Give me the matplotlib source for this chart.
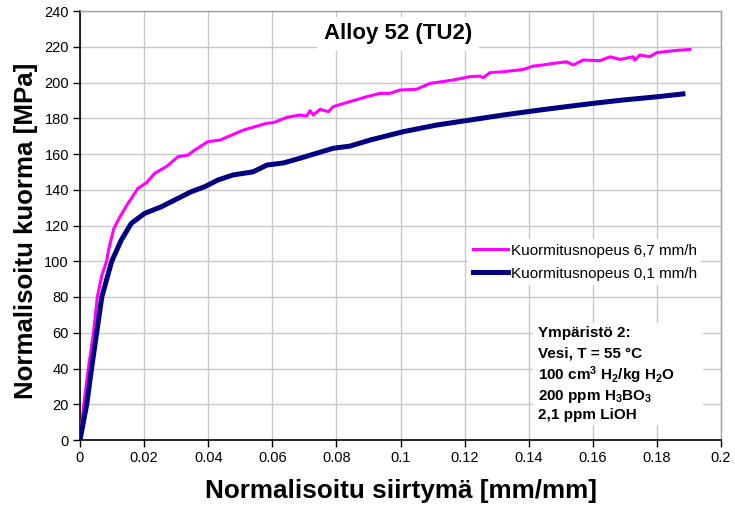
import matplotlib
matplotlib.use("Agg")
import matplotlib.pyplot as plt
from matplotlib.patches import Rectangle

plt.rcParams["font.family"] = ["Liberation Sans", "DejaVu Sans"]
plt.rcParams["mathtext.fontset"] = "custom"
plt.rcParams["mathtext.rm"] = "Liberation Sans:bold"
plt.rcParams["mathtext.default"] = "rm"

# Loading rate 6,7 mm/h
strain_fast = [0, 0.0012, 0.0026, 0.0042, 0.0054, 0.0068, 0.0083, 0.0090, 0.0105,
               0.0125, 0.0150, 0.0181, 0.0208, 0.0233, 0.0270, 0.0306, 0.0337,
               0.0358, 0.0399, 0.0437, 0.0510, 0.0583, 0.0603, 0.0645, 0.0686,
               0.0707, 0.0718, 0.0728, 0.0749, 0.0775, 0.0790, 0.0842, 0.0894,
               0.0936, 0.0967, 0.0998, 0.1050, 0.1092, 0.1165, 0.1217, 0.1248,
               0.1258, 0.1279, 0.1320, 0.1383, 0.1414, 0.1445, 0.1477, 0.1518,
               0.1539, 0.1570, 0.1622, 0.1654, 0.1685, 0.1726, 0.1731, 0.1747,
               0.1778, 0.1800, 0.1851, 0.1903]
stress_fast = [0, 20, 40, 60, 80, 92, 100, 107, 118,
               125, 132.4, 140.8, 144, 149.2, 153, 158.5, 159.4,
               162.2, 166.9, 167.8, 173.4, 177.2, 177.5, 180.5, 181.8,
               181.2, 184.2, 181.8, 185, 183.7, 186.5, 189.3, 192,
               193.9, 193.9, 195.8, 196.2, 199.5, 201.4, 203.3, 203.6,
               202.7, 205.5, 206, 207.3, 209.2, 209.8, 210.7, 211.6,
               209.8, 212.6, 212.2, 214.4, 212.9, 214.4, 212.5, 215.4,
               214.4, 216.7, 217.8, 218.5]

# Loading rate 0,1 mm/h
strain_slow = [0, 0.0021, 0.0036, 0.0052, 0.0068, 0.0099, 0.0129, 0.0160, 0.0202,
               0.0254, 0.0306, 0.0347, 0.0389, 0.0431, 0.0478, 0.0540, 0.0583,
               0.0635, 0.0686, 0.0738, 0.0790, 0.0842, 0.0905, 0.1009, 0.1113,
               0.1217, 0.1320, 0.1435, 0.1518, 0.1600, 0.1694, 0.1800, 0.1881]
stress_slow = [0, 20, 40, 60, 80, 100, 111.9, 121.2, 126.8,
               130.5, 135.2, 138.9, 141.7, 145.5, 148.3, 150, 153.8,
               155, 157.6, 160.4, 163.2, 164.4, 167.8, 172.5, 176.2,
               179, 181.8, 184.6, 186.5, 188.3, 190.2, 192, 193.6]

series_labels = ["Kuormitusnopeus 6,7 mm/h", "Kuormitusnopeus 0,1 mm/h"]
x_ticks = [0, 0.02, 0.04, 0.06, 0.08, 0.1, 0.12, 0.14, 0.16, 0.18, 0.2]
x_tick_labels = ["0", "0.02", "0.04", "0.06", "0.08", "0.1", "0.12", "0.14", "0.16", "0.18", "0.2"]
y_ticks = list(range(0, 241, 20))

env_lines = ["Ympäristö 2:",
             "Vesi, T = 55 °C",
             r"100 cm$^{3}$ H$_{2}$/kg H$_{2}$O",
             r"200 ppm H$_{3}$BO$_{3}$",
             "2,1 ppm LiOH"]

W, H = 735, 508
L, R, T, B = 80, 721, 11, 440


def ax_xy(px, py):
    """Pixel position inside the plot frame -> axes fraction."""
    return (px - L) / (R - L), (B - py) / (B - T)


fig = plt.figure(figsize=(W / 100, H / 100), dpi=100)
ax = fig.add_axes([L / W, (H - B) / H, (R - L) / W, (B - T) / H])

ax.plot(strain_fast, stress_fast, color="#ff00ff", lw=2.2, label=series_labels[0],
        solid_joinstyle="round", zorder=3)
ax.plot(strain_slow, stress_slow, color="#000080", lw=3.6, label=series_labels[1],
        solid_joinstyle="round", zorder=4)

ax.set_xlim(0, 0.2)
ax.set_ylim(0, 240)
ax.set_xticks(x_ticks)
ax.set_xticklabels(x_tick_labels)
ax.set_yticks(y_ticks)
ax.grid(True, color="#c8c8c8", lw=1.0)
ax.set_axisbelow(True)

for side in ("top", "right"):
    ax.spines[side].set_color("#a0a0a0")
    ax.spines[side].set_linewidth(1.0)
for side in ("left", "bottom"):
    ax.spines[side].set_color("black")
    ax.spines[side].set_linewidth(1.2)

ax.tick_params(direction="out", length=5, width=1, labelsize=10.5, pad=3, colors="black")

ax.set_xlabel("Normalisoitu siirtymä [mm/mm]", fontsize=18.8, fontweight="bold")
ax.set_ylabel("Normalisoitu kuorma [MPa]", fontsize=18.6, fontweight="bold")
ax.xaxis.set_label_coords(*ax_xy(401, 491))
ax.xaxis.label.set_va("center")
ax.yaxis.set_label_coords(*ax_xy(26, 231))
ax.yaxis.label.set_va("center")

# Title box
tx, ty = ax_xy(398, 34)
ax.text(tx, ty, "Alloy 52 (TU2)", transform=ax.transAxes,
        ha="center", va="center", fontsize=16, fontweight="bold", zorder=6,
        bbox=dict(facecolor="white", edgecolor="none", pad=5))

# Legend
lx, ly = ax_xy(468, 239)
leg = ax.legend(loc="upper left", bbox_to_anchor=(lx, ly),
                frameon=True, fontsize=11, handlelength=2.3, handletextpad=0.2,
                borderpad=0.3, labelspacing=0.6, borderaxespad=0, fancybox=False)
leg.get_frame().set_facecolor("white")
leg.get_frame().set_edgecolor("none")
leg.get_frame().set_alpha(1)
leg.set_zorder(6)

# Environment description box
bx0, by0 = ax_xy(533, 425)
bx1, by1 = ax_xy(703, 323)
ax.add_patch(Rectangle((bx0, by0), bx1 - bx0, by1 - by0, transform=ax.transAxes,
                       facecolor="white", edgecolor="none", zorder=5))
line_y = [333, 353.5, 375, 396.5, 415]
for txt, py in zip(env_lines, line_y):
    px, pyf = ax_xy(538, py)
    ax.text(px, pyf, txt, transform=ax.transAxes,
            ha="left", va="center", fontsize=11, fontweight="bold", zorder=6)

fig.savefig("out.png", dpi=100, facecolor="white")
